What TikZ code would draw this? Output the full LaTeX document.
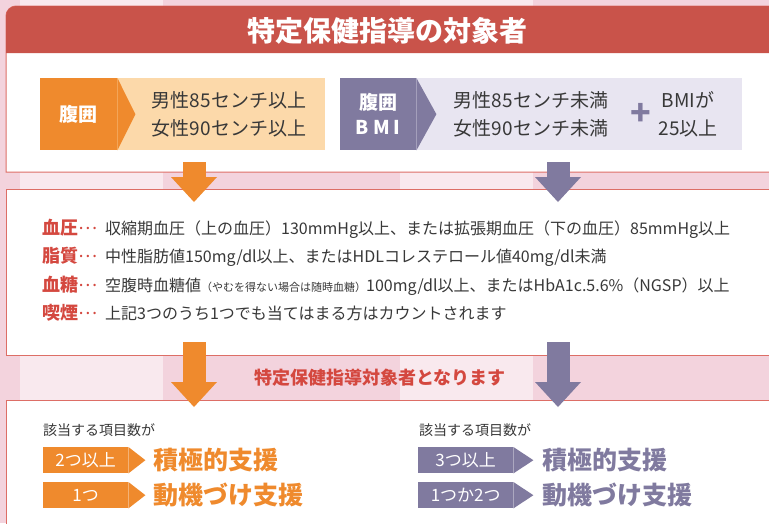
\documentclass[tikz,border=0pt]{standalone}
\usepackage{fontspec}
\setmainfont{Noto Sans CJK JP}
\usetikzlibrary{shapes,arrows.meta,positioning}

\definecolor{hdrred}{HTML}{C9534A}
\definecolor{edgered}{HTML}{DD6E66}
\definecolor{txtred}{HTML}{D4483F}
\definecolor{orng}{HTML}{EF8A2D}
\definecolor{lorng}{HTML}{FCD9AA}
\definecolor{prpl}{HTML}{807A9F}
\definecolor{lprpl}{HTML}{E8E5F1}
\definecolor{ink}{HTML}{383838}
\definecolor{bgpink}{HTML}{F3D3DD}

\newcommand{\fs}[1]{\fontsize{#1}{#1}\selectfont}
\newcommand{\mdots}{{\mdseries\raisebox{5pt}{…}}}

\tikzstyle{panel} = [draw=edgered, line width=1pt, fill=white]
\tikzstyle{chip} = [anchor=north west, inner sep=0pt, text=white,
    minimum height=26pt, font=\fs{17}]
\tikzstyle{head} = [anchor=north west, inner sep=0pt, text=white,
    minimum height=72pt, align=center, font=\bfseries\fontsize{19}{25}\selectfont]
\tikzstyle{cond} = [ink, align=left, font=\fontsize{19}{28}\selectfont, inner sep=0pt]
\tikzstyle{lbl} = [anchor=base west, txtred, inner sep=0pt, font=\bfseries\fs{18}]
\tikzstyle{body} = [anchor=base west, ink, inner sep=0pt, font=\fs{16}]
\tikzstyle{result} = [anchor=west, inner sep=0pt, font=\bfseries\fs{25}]
\tikzstyle{fat} = [line width=23pt,
    -{Triangle[length=25pt, width=46pt, line width=0pt]}]

\begin{document}
\begin{tikzpicture}[x=1pt, y=-1pt]
    \useasboundingbox (0,0) rectangle (769,523);
    % background
    \fill[bgpink] (0,0) rectangle (769,523);
    \fill[white, opacity=.5] (20,0) rectangle (163,523);
    \fill[white, opacity=.5] (400,0) rectangle (533,523);

    % top panel
    \draw[panel] (800,172) -- (6,172) {[rounded corners=10pt] -- (6,6) -- (800,6)} -- cycle;
    \fill[hdrred] (800,53) -- (6,53) {[rounded corners=10pt] -- (6,6) -- (800,6)} -- cycle;
    \node[white, font=\bfseries\fs{28}] (title) at (387,31) {特定保健指導の対象者};

    \fill[lorng] (40,78) rectangle (325,150);
    \node[head, fill=orng, minimum width=77pt] (waist) at (40,78) {腹囲};
    \fill[orng] (waist.north east) -- ([xshift=18pt]waist.east) -- (waist.south east) -- cycle;
    \node[cond] (waistcond) at (229,114) {男性85センチ以上\\女性90センチ以上};

    \fill[lprpl] (340,78) rectangle (742,150);
    \node[head, fill=prpl, minimum width=76pt] (bmi) at (340,78) {腹囲\\B\hspace{4pt}M\hspace{4pt}I};
    \fill[prpl] (bmi.north east) -- ([xshift=20pt]bmi.east) -- (bmi.south east) -- cycle;
    \node[cond] (bmicond) at (531,114) {男性85センチ未満\\女性90センチ未満};
    \node[prpl, font=\bfseries\fs{34}, inner sep=0pt] (plus) at (641,114) {+};
    \node[cond, align=center] (bmival) at (688,114) {BMIが\\25以上};

    % risk panel
    \draw[panel] (6,189) rectangle (800,355);
    \node[lbl] (bp) at (42,234) {血圧\mdots};
    \node[body] (bptxt) at (105,234) {収縮期血圧（上の血圧）130mmHg以上、または拡張期血圧（下の血圧）85mmHg以上};
    \node[lbl] (lipid) at (42,262.5) {脂質\mdots};
    \node[body] (lipidtxt) at (105,262.5) {中性脂肪値150mg/dl以上、またはHDLコレステロール値40mg/dl未満};
    \node[lbl] (sugar) at (42,291) {血糖\mdots};
    \node[body] (sugartxt) at (105,291) {空腹時血糖値{\fs{11}（やむを得ない場合は随時血糖）}100mg/dl以上、またはHbA1c.5.6\%（NGSP）以上};
    \node[lbl] (smoke) at (42,319.5) {喫煙\mdots};
    \node[body] (smoketxt) at (105,319.5) {上記3つのうち1つでも当てはまる方はカウントされます};

    \node[txtred, font=\bfseries\fs{18}] (become) at (380,378) {特定保健指導対象者となります};

    % result panel
    \draw[panel] (6,400) rectangle (800,560);
    \node[ink, anchor=west, font=\fs{14}, inner sep=0pt] (cntl) at (43,430) {該当する項目数が};
    \node[chip, fill=orng, minimum width=85pt] (twoup) at (43,447) {2つ以上};
    \fill[orng] (twoup.north east) -- ([xshift=17pt]twoup.east) -- (twoup.south east) -- cycle;
    \node[result, orng] (activel) at (153,460) {積極的支援};
    \node[chip, fill=orng, minimum width=85pt] (one) at (43,482) {1つ};
    \fill[orng] (one.north east) -- ([xshift=17pt]one.east) -- (one.south east) -- cycle;
    \node[result, orng] (motivl) at (153,495) {動機づけ支援};

    \node[ink, anchor=west, font=\fs{14}, inner sep=0pt] (cntr) at (419,430) {該当する項目数が};
    \node[chip, fill=prpl, minimum width=95pt] (threeup) at (418,447) {3つ以上};
    \fill[prpl] (threeup.north east) -- ([xshift=20pt]threeup.east) -- (threeup.south east) -- cycle;
    \node[result, prpl] (activer) at (542,460) {積極的支援};
    \node[chip, fill=prpl, minimum width=95pt] (onetwo) at (418,482) {1つか2つ};
    \fill[prpl] (onetwo.north east) -- ([xshift=20pt]onetwo.east) -- (onetwo.south east) -- cycle;
    \node[result, prpl] (motivr) at (542,495) {動機づけ支援};

    % arrows between panels
    \coordinate (o1) at (194,162);
    \coordinate (o2) at (194,202);
    \coordinate (o3) at (194,342);
    \coordinate (o4) at (194,407);
    \coordinate (p1) at (558,162);
    \coordinate (p2) at (558,202);
    \coordinate (p3) at (558,342);
    \coordinate (p4) at (558,407);
    \draw[fat, orng] (o1) -- (o2);
    \draw[fat, prpl] (p1) -- (p2);
    \draw[fat, orng] (o3) -- (o4);
    \draw[fat, prpl] (p3) -- (p4);
\end{tikzpicture}
\end{document}
